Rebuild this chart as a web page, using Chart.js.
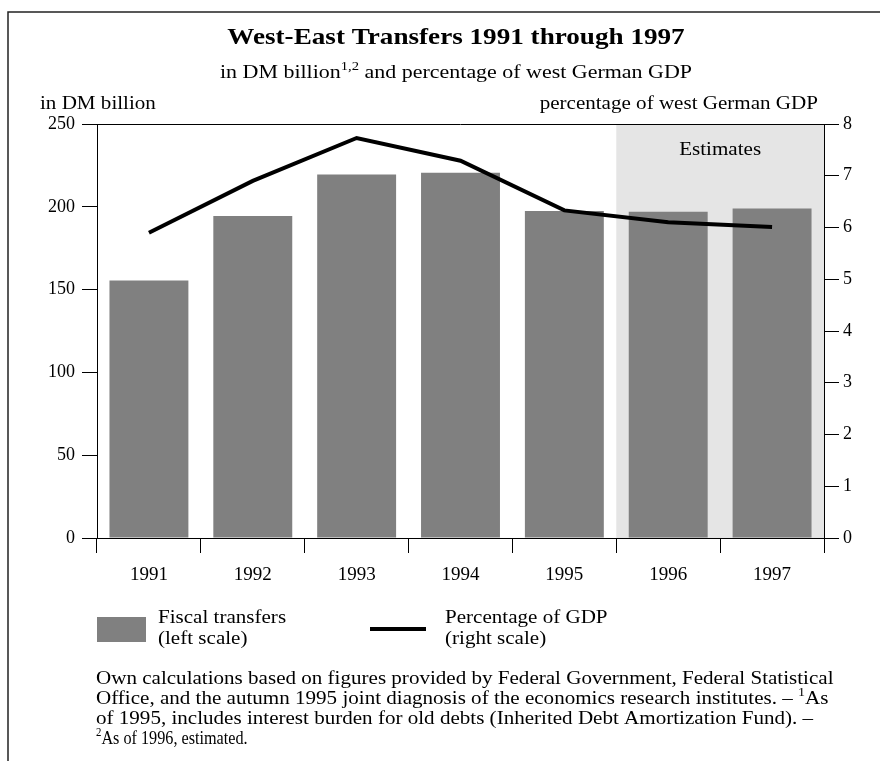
<!DOCTYPE html>
<html>
<head>
<meta charset="utf-8">
<script src="https://cdn.jsdelivr.net/npm/chart.js@4.4.1/dist/chart.umd.min.js"></script>
<style>
  html, body { margin: 0; padding: 0; background: #fff; }
  #wrap { width: 880px; height: 761px; }
</style>
</head>
<body>
<div id="wrap"><canvas id="transferChart" width="880" height="761"></canvas></div>
<script>
const years = ['1991', '1992', '1993', '1994', '1995', '1996', '1997'];
const fiscalTransfers = [155.5, 194.5, 219.5, 220.5, 197.5, 197, 199];
const gdpShare = [5.9, 6.9, 7.73, 7.29, 6.33, 6.1, 6.01];
const estimateYears = ['1996', '1997'];

const SERIF = '"Liberation Serif", "Times New Roman", serif';
const BAR_GREY = '#808080';
const SHADE = '#e5e5e5';
const STRETCH = 1.17; // the source type is set wide

// draw a line of text made of [text, isSuperscript] pieces, stretched horizontally
function drawRich(ctx, pieces, x, y, size, align, sx, weight) {
    const supSize = Math.round(size * 0.68);
    const w = weight ? weight + ' ' : '';
    let total = 0;
    pieces.forEach(([t, sup]) => {
        ctx.font = w + (sup ? supSize : size) + 'px ' + SERIF;
        total += ctx.measureText(t).width;
    });
    const width = total * sx;
    let start = x;
    if (align === 'center') start = x - width / 2;
    if (align === 'right') start = x - width;
    ctx.save();
    ctx.translate(start, y);
    ctx.scale(sx, 1);
    ctx.textAlign = 'left';
    ctx.textBaseline = 'alphabetic';
    let cx = 0;
    pieces.forEach(([t, sup]) => {
        ctx.font = w + (sup ? supSize : size) + 'px ' + SERIF;
        ctx.fillText(t, cx, sup ? -size * 0.42 : 0);
        cx += ctx.measureText(t).width;
    });
    ctx.restore();
}

const decorPlugin = {
    id: 'decor',
    beforeDatasetsDraw(chart) {
        const { ctx, chartArea, scales } = chart;
        const x = scales.x;
        const first = years.indexOf(estimateYears[0]);
        const left = (x.getPixelForValue(first - 1) + x.getPixelForValue(first)) / 2;
        ctx.save();
        ctx.fillStyle = SHADE;
        ctx.fillRect(left, chartArea.top, chartArea.right - left, chartArea.bottom - chartArea.top);
        ctx.fillStyle = '#000';
        drawRich(ctx, [['Estimates', false]], (left + chartArea.right) / 2, 155, 18, 'center', STRETCH);
        ctx.restore();
    },
    afterDraw(chart) {
        const { ctx, chartArea } = chart;
        ctx.save();
        // frame
        ctx.strokeStyle = '#222';
        ctx.lineWidth = 1.5;
        ctx.beginPath();
        ctx.moveTo(880, 12);
        ctx.lineTo(8, 12);
        ctx.lineTo(8, 761);
        ctx.stroke();
        // top border of plot
        ctx.strokeStyle = '#000';
        ctx.lineWidth = 1;
        ctx.beginPath();
        ctx.moveTo(chartArea.left, chartArea.top + 0.5);
        ctx.lineTo(chartArea.right, chartArea.top + 0.5);
        ctx.stroke();

        ctx.fillStyle = '#000';
        drawRich(ctx, [['West-East Transfers 1991 through 1997', false]], 456, 44, 23, 'center', 1.18, 'bold');
        drawRich(ctx, [['in DM billion', false], ['1,2', true], [' and percentage of west German GDP', false]], 456, 78, 18, 'center', 1.22);

        drawRich(ctx, [['in DM billion', false]], 40, 109, 18, 'left', STRETCH);
        drawRich(ctx, [['percentage of west German GDP', false]], 818, 109, 18, 'right', STRETCH);

        // legend
        const bars = chart.data.datasets[1];
        const line = chart.data.datasets[0];
        ctx.fillStyle = bars.backgroundColor;
        ctx.fillRect(97, 617, 49, 25);
        ctx.strokeStyle = line.borderColor;
        ctx.lineWidth = line.borderWidth;
        ctx.beginPath();
        ctx.moveTo(370, 629);
        ctx.lineTo(426, 629);
        ctx.stroke();
        ctx.fillStyle = '#000';
        drawRich(ctx, [[bars.label, false]], 158, 623, 18, 'left', STRETCH);
        drawRich(ctx, [['(left scale)', false]], 158, 644, 18, 'left', STRETCH);
        drawRich(ctx, [[line.label, false]], 445, 623, 18, 'left', STRETCH);
        drawRich(ctx, [['(right scale)', false]], 445, 644, 18, 'left', STRETCH);

        // footnote
        drawRich(ctx, [['Own calculations based on figures provided by Federal Government, Federal Statistical', false]], 96, 684, 18, 'left', STRETCH);
        drawRich(ctx, [['Office, and the autumn 1995 joint diagnosis of the economics research institutes. \u2013 ', false], ['1', true], ['As', false]], 96, 704, 18, 'left', STRETCH);
        drawRich(ctx, [['of 1995, includes interest burden for old debts (Inherited Debt Amortization Fund). \u2013', false]], 96, 724, 18, 'left', STRETCH);
        drawRich(ctx, [['2', true], ['As of 1996, estimated.', false]], 96, 744, 18, 'left', 0.9);
        ctx.restore();
    }
};

const tickFont = { family: SERIF, size: 18 };

new Chart(document.getElementById('transferChart'), {
    type: 'bar',
    data: {
        labels: years,
        datasets: [{
            type: 'line',
            label: 'Percentage of GDP',
            data: gdpShare,
            yAxisID: 'y1',
            borderColor: '#000',
            borderWidth: 4,
            pointRadius: 0,
            tension: 0,
            order: 0
        }, {
            type: 'bar',
            label: 'Fiscal transfers',
            data: fiscalTransfers,
            yAxisID: 'y',
            backgroundColor: BAR_GREY,
            barPercentage: 0.76,
            categoryPercentage: 1,
            order: 1
        }]
    },
    options: {
        responsive: false,
        animation: false,
        devicePixelRatio: 1,
        layout: { padding: { top: 124, left: 0, right: 0, bottom: 0 } },
        plugins: {
            legend: { display: false },
            tooltip: { enabled: false },
            title: { display: false }
        },
        scales: {
            x: {
                grid: { offset: true, drawOnChartArea: false, tickLength: 15, color: '#000' },
                border: { color: '#000' },
                ticks: { font: { family: SERIF, size: 19 }, color: '#000', padding: 11 },
                afterFit: (s) => { s.height = 223; }
            },
            y: {
                position: 'left',
                min: 0,
                max: 250,
                ticks: { stepSize: 50, font: tickFont, color: '#000', padding: 7 },
                grid: { drawOnChartArea: false, tickLength: 15, color: '#000' },
                border: { color: '#000' },
                afterFit: (s) => { s.width = 97; }
            },
            y1: {
                position: 'right',
                min: 0,
                max: 8,
                ticks: { stepSize: 1, font: tickFont, color: '#000', padding: 4 },
                grid: { drawOnChartArea: false, tickLength: 15, color: '#000' },
                border: { color: '#000' },
                afterFit: (s) => { s.width = 56; }
            }
        }
    },
    plugins: [decorPlugin]
});
</script>
</body>
</html>
